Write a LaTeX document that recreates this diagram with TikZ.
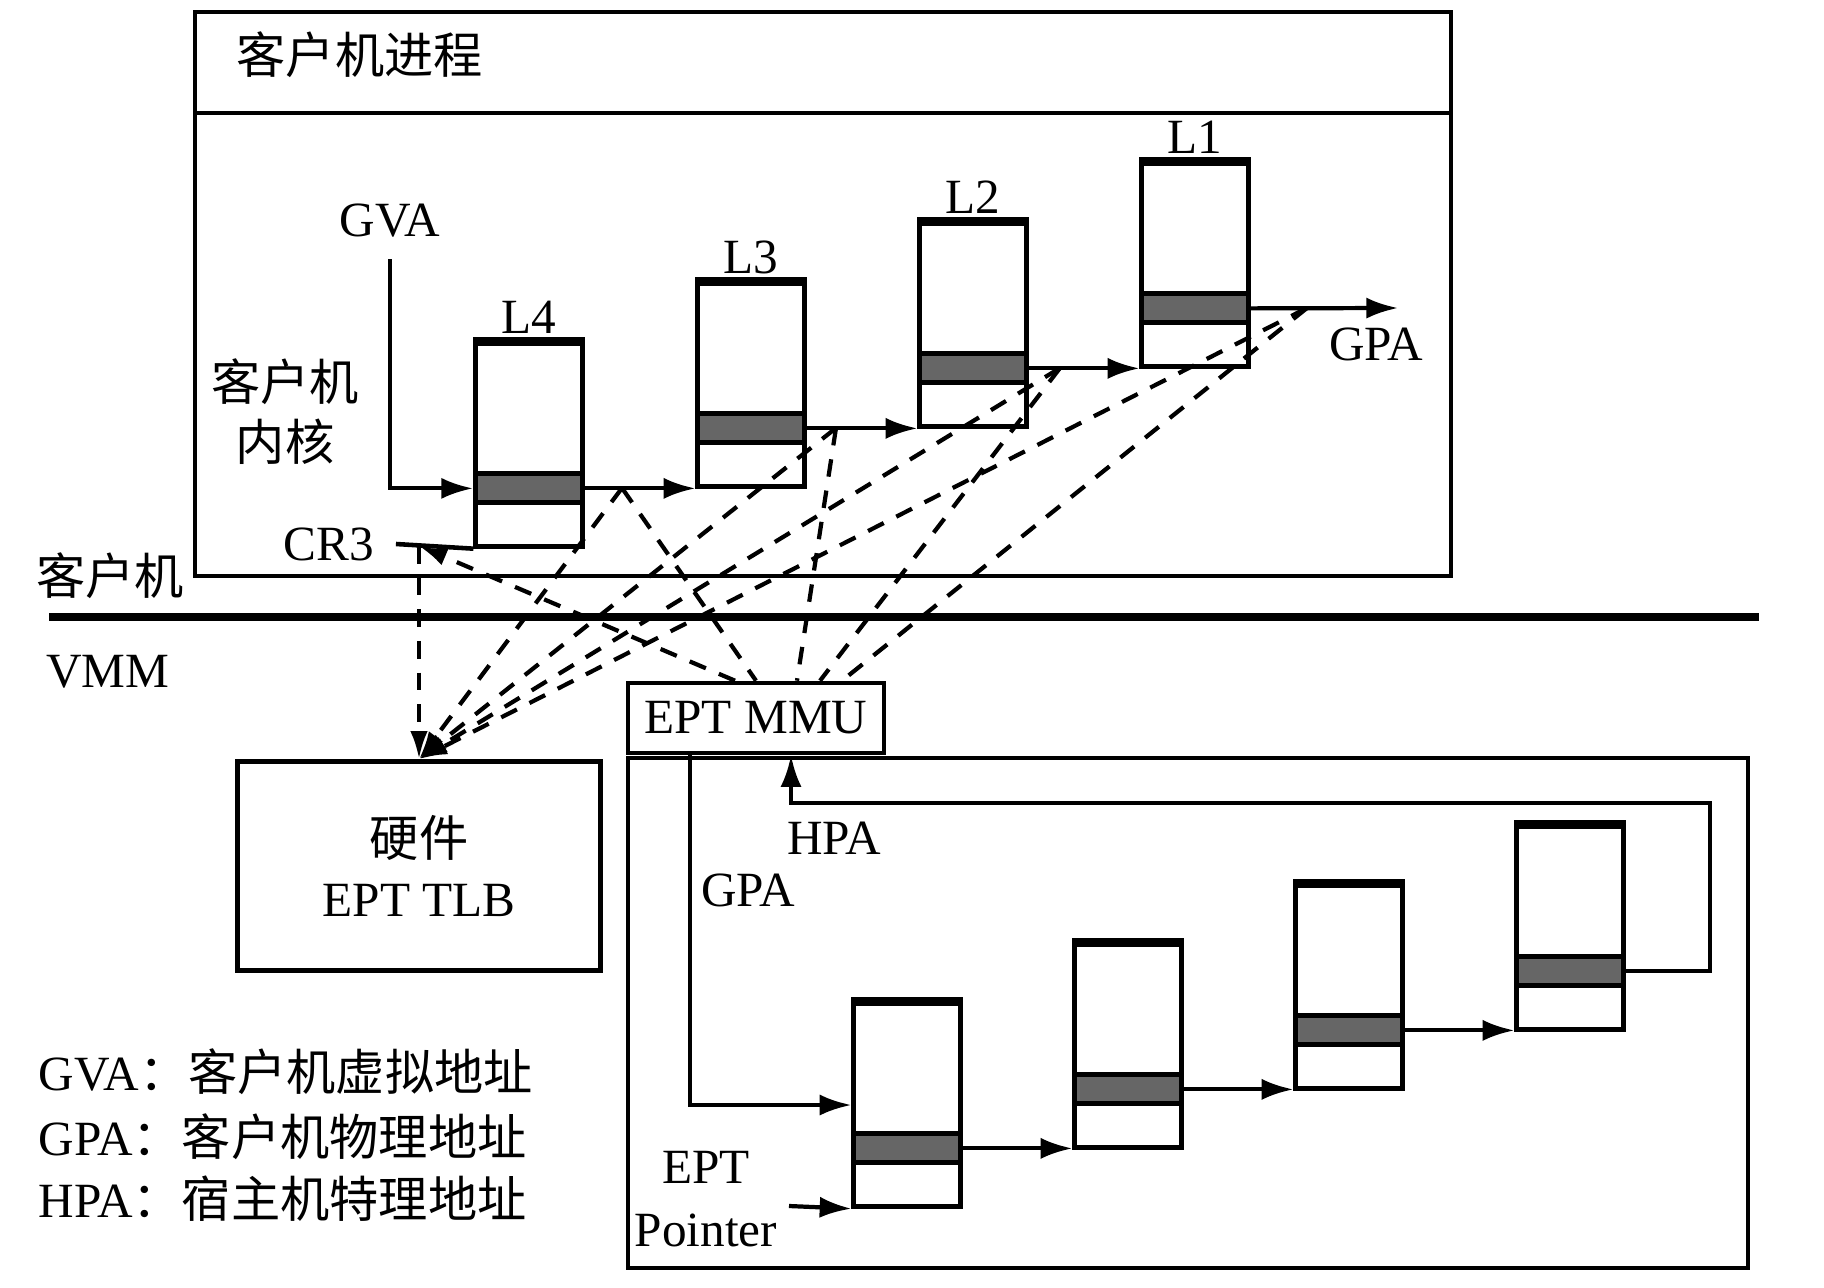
\documentclass[tikz,border=0pt]{standalone}
\usepackage{fontspec}
\setmainfont{Liberation Serif}
\newfontfamily\cjk{Noto Sans CJK SC}
\usetikzlibrary{positioning,arrows.meta}

\tikzset{
  pgtbl/.style={draw, line width=1.2pt, minimum width=1.07cm, minimum height=2.03cm, inner sep=0pt},
  pgband/.style={draw, line width=1.4pt, fill=black!60, minimum width=1.07cm, minimum height=0.29cm, inner sep=0pt},
  flowarr/.style={line width=1.2pt, -{Latex[length=9pt,width=6pt]}},
  walkline/.style={line width=1.2pt, dash pattern=on 5pt off 4pt},
  walkarr/.style={walkline, -{Latex[length=8pt,width=5pt]}},
  txt/.style={inner sep=0pt, font=\fontsize{14}{17}\selectfont},
  boxline/.style={line width=1.3pt}
}

\begin{document}
\begin{tikzpicture}[x=0.01cm, y=-0.01cm]
\useasboundingbox (0,0) rectangle (1824,1288);

% Guest frame
\draw[boxline] (195,12) rectangle (1451,576);
\draw[boxline] (195,113) -- (1451,113);
\node[txt, anchor=west] (proc) at (236,55) {\cjk 客户机进程};
\node[txt, align=center] (kern) at (285,412) {{\cjk 客户机}\\{\cjk 内核}};

% Guest / VMM border
\draw[line width=2.2pt] (49,617) -- (1759,617);
\node[txt] (guestlbl) at (110,576) {\cjk 客户机};
\node[txt] (vmmlbl) at (108,672) {VMM};

% Guest page tables
\foreach \n/\x/\y in {L4/529/445, L3/751/385, L2/973/325, L1/1195/265}{
  \node[pgtbl] (\n) at (\x,\y) {};
  \node[pgband, below=1.30cm of \n.north] (\n-s) {};
  \draw[line width=2.2pt] (\n.north west) -- (\n.north east);
  \node[txt, above=2pt of \n.north] (\n-lbl) {\n};
}

% Guest walk
\node[txt] (gva) at (390,221) {GVA};
\draw[flowarr] ([yshift=-6pt]gva.south) |- (L4-s.west);
\draw[flowarr] (L4-s.east) -- (L4-s.east -| L3.west);
\draw[flowarr] (L3-s.east) -- (L3-s.east -| L2.west);
\draw[flowarr] (L2-s.east) -- (L2-s.east -| L1.west);
\coordinate (gpaend) at (1398,308);
\draw[flowarr] (L1-s.east) -- (gpaend);
\node[txt] (gpaout) at (1376,344) {GPA};

\node[txt] (cr3) at (329,544) {CR3};
\draw[boxline] ([xshift=6pt]cr3.east) -- (L4.south west);

% VMM side boxes
\node[draw, boxline, txt, minimum width=2.56cm, minimum height=0.70cm] (mmu) at (756,718) {EPT MMU};
\node[draw, boxline, txt, align=center, minimum width=3.63cm, minimum height=2.09cm] (tlb) at (419,866) {{\cjk 硬件}\\EPT TLB};

% Walk points and EPT lookups
\coordinate (j0) at (419,546);
\coordinate (j1) at (622,488);
\coordinate (j2) at (836,428);
\coordinate (j3) at (1060,368);
\coordinate (j4) at (1307,308);
\coordinate (m0) at ([xshift=-0.21cm]mmu.north);
\coordinate (m1) at (mmu.north);
\coordinate (m2) at ([xshift=0.41cm]mmu.north);
\coordinate (m3) at ([xshift=0.64cm]mmu.north);
\coordinate (m4) at ([xshift=0.86cm]mmu.north);

\draw[walkarr] (m0) -- (j0);
\foreach \k in {1,...,4}
  \draw[walkline] (j\k) -- (m\k);
\foreach \k in {0,...,4}
  \draw[walkarr] (j\k) -- (tlb.north);

% EPT tables
\draw[boxline] (628,758) rectangle (1748,1268);
\foreach \n/\x/\y in {E1/907/1105, E2/1128/1046, E3/1349/987, E4/1570/928}{
  \node[pgtbl] (\n) at (\x,\y) {};
  \node[pgband, below=1.30cm of \n.north] (\n-s) {};
  \draw[line width=2.2pt] (\n.north west) -- (\n.north east);
}
\draw[flowarr] (E1-s.east) -- (E1-s.east -| E2.west);
\draw[flowarr] (E2-s.east) -- (E2-s.east -| E3.west);
\draw[flowarr] (E3-s.east) -- (E3-s.east -| E4.west);

% HPA back to the MMU
\coordinate (hpr) at (1710,803);
\coordinate (hpup) at ([xshift=0.35cm]mmu.south);
\draw[flowarr] (E4-s.east) -| (hpr) -| (hpup);
\node[txt] (hpa) at (834,838) {HPA};

% GPA into the EPT walk
\coordinate (gpadn) at ([xshift=-0.66cm]mmu.south);
\draw[flowarr] (gpadn) |- (E1.west);
\node[txt] (gpain) at (748,890) {GPA};

\node[txt] (eptl) at (706,1167) {EPT};
\node[txt] (ptrl) at (706,1230) {Pointer};
\coordinate (eptp) at (789,1206);
\draw[flowarr] (eptp) -- (E1.south west);

% Legend
\node[txt, anchor=west] (leg1) at (38,1072) {GVA{\cjk ：客户机虚拟地址}};
\node[txt, anchor=west] (leg2) at (38,1137) {GPA{\cjk ：客户机物理地址}};
\node[txt, anchor=west] (leg3) at (38,1199) {HPA{\cjk ：宿主机特理地址}};

\end{tikzpicture}
\end{document}
